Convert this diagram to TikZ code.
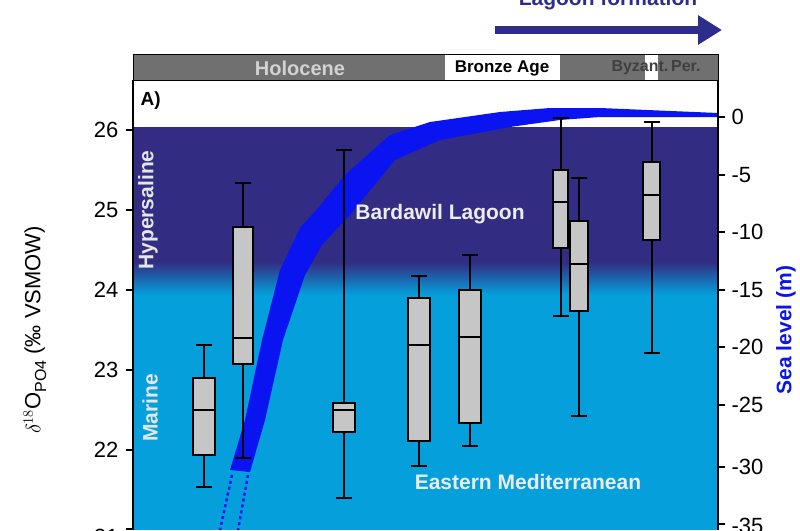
\documentclass[tikz,border=0pt]{standalone}
\usepackage{fontspec}
\setmainfont{Liberation Sans}
\usetikzlibrary{arrows.meta}
\begin{document}
\begin{tikzpicture}[x=1pt,y=-1pt,
  bx/.style={draw=black,line width=2pt,fill=gray!45},
  wk/.style={draw=black,line width=2pt},
  tk/.style={font=\fontsize{22}{22}\selectfont},
  hd/.style={font=\bfseries\fontsize{20}{20}\selectfont},
  lb/.style={font=\bfseries\fontsize{21}{21}\selectfont}]
\definecolor{deep}{RGB}{50,45,130}
\definecolor{sea}{RGB}{5,160,220}
\definecolor{band}{RGB}{10,20,240}
\definecolor{navy}{RGB}{45,45,140}
\useasboundingbox (0,0) rectangle (800,530);
% background regions
\fill[sea] (133,127) rectangle (718,530);
\fill[deep] (133,127) rectangle (718,262);
\shade[top color=deep,bottom color=sea] (133,262) rectangle (718,295);
% header
\fill[gray!75!black!90] (133,54) rectangle (718,80);
\fill[white] (445,54) rectangle (560,80);
\fill[white] (645,54) rectangle (658,80);
\draw[line width=1pt] (133,54) rectangle (718,80);
\node[hd,text=gray!35] (hol) at (300,68) {Holocene};
\node[font=\bfseries\fontsize{17}{17}\selectfont] (bro) at (502,68) {Bronze Age};
\node[font=\bfseries\fontsize{16}{16}\selectfont,text=black!75] (byz) at (656,68) {Byzant.\,Per.};
\node[font=\bfseries\fontsize{19}{19}\selectfont,anchor=west] (A) at (137,101) {A)};
% lagoon arrow
\node[font=\bfseries\fontsize{21}{21}\selectfont,text=navy] (lag) at (608,0) {Lagoon formation};
\coordinate (a1) at (495,30); \coordinate (a2) at (722,30);
\draw[navy,line width=8pt,-{Triangle[length=24pt,width=28pt]}] (a1) -- (a2);
% sea level band
\fill[band] (230,470) -- (245,420) -- (262,340) -- (280,270) -- (300,228) -- (318,208) -- (345,175) -- (390,135) -- (430,122) -- (500,112) -- (550,108) -- (600,108) -- (718,113)
 -- (718,117) -- (600,117) -- (560,120) -- (510,127) -- (440,140) -- (395,160) -- (350,215) -- (322,245) -- (305,275) -- (283,340) -- (265,420) -- (250,472) -- cycle;
\coordinate (d1) at (232,475); \coordinate (d2) at (220,530);
\coordinate (d3) at (248,475); \coordinate (d4) at (238,530);
\draw[band,line width=2.5pt,dashed] (d1) -- (d2);
\draw[band,line width=2.5pt,dashed] (d3) -- (d4);
% boxes
\foreach \xa/\xb/\wt/\wb/\bt/\bb/\md in {193/215/345/487/378/455/410, 233/253/183/458/227/364/338, 333/355/150/498/403/432/410, 408/430/276/466/298/441/345, 459/481/255/446/290/423/337, 553/568/118/316/170/248/202, 570/588/178/416/221/311/264, 643/660/122/353/162/240/195}{
  \draw[wk] ({(\xa+\xb)/2},\wt) -- ({(\xa+\xb)/2},\wb);
  \draw[wk] ({(\xa+\xb)/2-8},\wt) -- ({(\xa+\xb)/2+8},\wt);
  \draw[wk] ({(\xa+\xb)/2-8},\wb) -- ({(\xa+\xb)/2+8},\wb);
  \draw[bx] (\xa,\bt) rectangle (\xb,\bb);
  \draw[wk] (\xa,\md) -- (\xb,\md);
}
% region labels
\node[lb,text=gray!20,rotate=90] (hyp) at (148,210) {Hypersaline};
\node[lb,text=gray!20,rotate=90] (mar) at (150,408) {Marine};
\node[lb,text=gray!15] (bar) at (440,214) {Bardawil Lagoon};
\node[lb,text=gray!15] (em) at (528,482) {Eastern Mediterranean};
% frame / axes
\draw[line width=1.5pt] (133,80) -- (133,530);
\draw[line width=1.5pt] (718,80) -- (718,530);
\foreach \v/\y in {26/130,25/210,24/290,23/370,22/450}{
  \draw[line width=1.5pt] (126,\y) -- (133,\y);
  \node[tk,anchor=east] at (122,\y) {\v};
}
\draw[line width=1.5pt] (126,529) -- (133,529);
\node[tk,anchor=east] (t21) at (122,537) {21};
\foreach \v/\y in {0/117,-5/175,-10/232,-15/290,-20/347,-25/405,-30/467}{
  \draw[line width=1.5pt] (718,\y) -- (725,\y);
  \node[tk,anchor=west] at (728,\y) {\v};
}
\draw[line width=1.5pt] (718,524) -- (725,524);
\node[tk,anchor=west] (tm35) at (728,526) {-35};
\node[rotate=90,font=\fontsize{22}{22}\selectfont] (yl) at (35,330) {$\delta^{18}$O\raisebox{-0.5ex}{\fontsize{16}{16}\selectfont PO4} (‰ VSMOW)};
\node[rotate=90,font=\bfseries\fontsize{21}{21}\selectfont,text=band] (yr) at (786,330) {Sea level (m)};
\end{tikzpicture}
\end{document}
